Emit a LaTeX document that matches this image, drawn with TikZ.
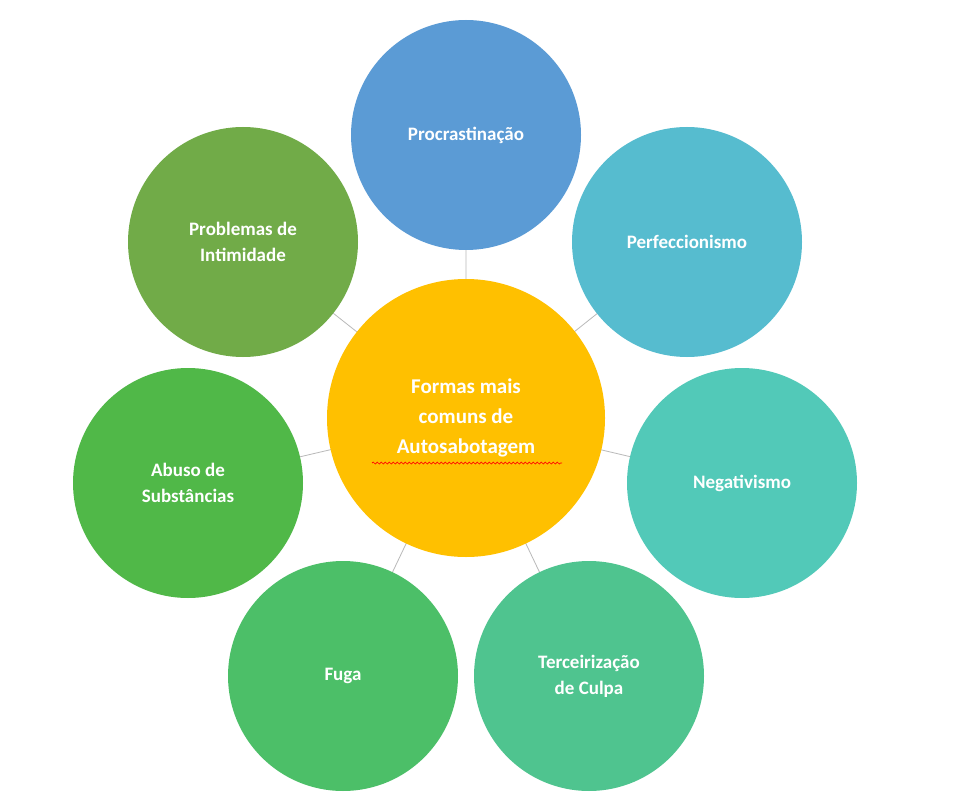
\documentclass[tikz,border=0pt]{standalone}
\usepackage{fontspec}
\setmainfont{Carlito}
\usetikzlibrary{decorations.pathmorphing}
\definecolor{cBlue}{HTML}{5B9BD5}
\definecolor{cCyan}{HTML}{56BCCF}
\definecolor{cTeal}{HTML}{52C9B8}
\definecolor{cMint}{HTML}{4FC48F}
\definecolor{cGreen}{HTML}{4CBF68}
\definecolor{cLeaf}{HTML}{50B848}
\definecolor{cOlive}{HTML}{71AB48}
\definecolor{cGold}{HTML}{FFC000}
\begin{document}
\begin{tikzpicture}[x=1pt,y=-1pt]
    \tikzstyle{bubble}=[circle, minimum size=230pt, inner sep=0pt, text=white,
                        align=center, font=\fontsize{19}{26}\selectfont\bfseries]
    \tikzstyle{link}=[draw=gray!55, line width=0.8pt]
    \useasboundingbox[fill=white] (0,0) rectangle (964,805);

    \coordinate (hub) at (466,418);
    \draw[link] (hub) -- (466,135)
                (hub) -- (687,242)
                (hub) -- (742,483)
                (hub) -- (589,676)
                (hub) -- (343,676)
                (hub) -- (188,483)
                (hub) -- (243,242);

    \node[bubble, fill=cBlue]  (procr)  at (466,135) {Procrastinação};
    \node[bubble, fill=cCyan]  (perf)   at (687,242) {Perfeccionismo};
    \node[bubble, fill=cTeal]  (neg)    at (742,483) {Negativismo};
    \node[bubble, fill=cMint]  (terc)   at (589,676) {Terceirização\\de Culpa};
    \node[bubble, fill=cGreen] (fuga)   at (343,676) {Fuga};
    \node[bubble, fill=cLeaf]  (abuso)  at (188,483) {Abuso de\\Substâncias};
    \node[bubble, fill=cOlive] (probl)  at (243,242) {Problemas de\\Intimidade};

    \node[bubble, fill=cGold, minimum size=278pt,
          font=\fontsize{21}{30}\selectfont\bfseries] (core) at (hub)
          {Formas mais\\comuns de\\Autosabotagem};
    \draw[red, line width=0.7pt, decorate,
          decoration={snake, amplitude=1pt, segment length=4pt}]
          (372,463) -- (562,463);

\end{tikzpicture}
\end{document}
